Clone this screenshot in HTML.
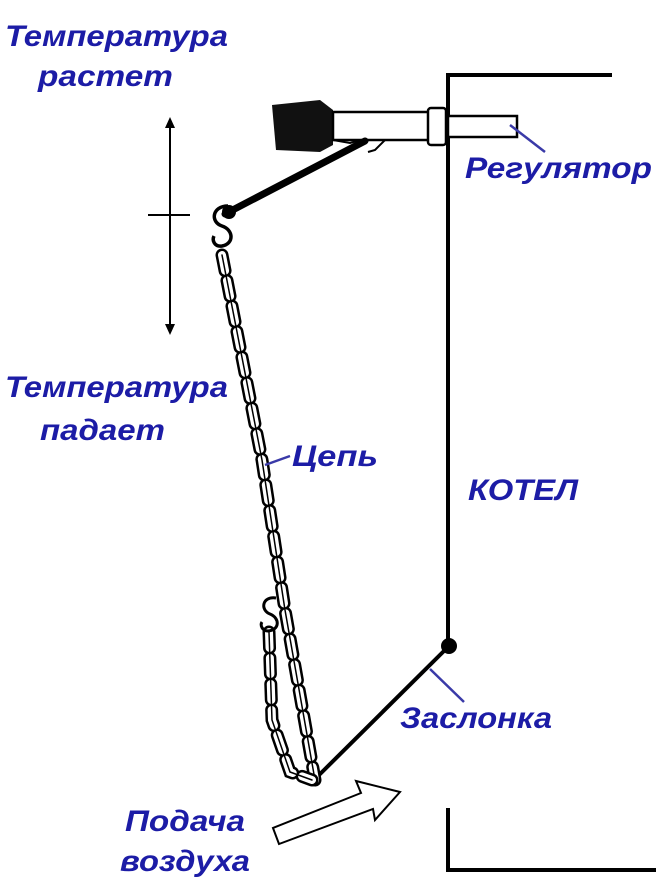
<!DOCTYPE html>
<html><head><meta charset="utf-8"><style>
html,body{margin:0;padding:0;background:#fff;}
svg{display:block}
text{font-family:"Liberation Sans",sans-serif;font-weight:bold;font-style:italic;fill:#1c1ca6;font-size:30px}
</style></head><body>
<svg width="670" height="895" viewBox="0 0 670 895" xmlns="http://www.w3.org/2000/svg">
<path d="M612 75 H448 V645" fill="none" stroke="#000" stroke-width="4"/>
<path d="M448 808 V870 H656" fill="none" stroke="#000" stroke-width="4"/>
<circle cx="449" cy="646" r="8" fill="#000"/>
<line x1="449" y1="646" x2="313" y2="781" stroke="#000" stroke-width="4"/>
<path d="M272 105 L320 100 L333 110 L333 145 L320 152 L276 150 Z" fill="#111"/>
<rect x="333" y="112" width="96" height="28" fill="#fff" stroke="#000" stroke-width="2.5"/>
<rect x="428" y="108" width="18" height="37" rx="3" fill="#fff" stroke="#000" stroke-width="2.5"/>
<rect x="448" y="116" width="69" height="21" fill="#fff" stroke="#000" stroke-width="2.5"/>
<path d="M333 140 L350 143 L360 140 M385 140 L375 150 L368 152" fill="none" stroke="#000" stroke-width="2"/>
<line x1="365" y1="141" x2="225" y2="214" stroke="#000" stroke-width="7" stroke-linecap="round"/>
<path d="M228 206 C212 206 210 222 222 226 C234 230 234 244 222 246 C214 247 212 240 214 236" fill="none" stroke="#000" stroke-width="3.5"/>
<circle cx="229" cy="212" r="7" fill="#000"/>
<g fill="none" stroke-linecap="round">
<path d="M222 255 L262 460 L285 610 L315 780" stroke="#000" stroke-width="13" stroke-dasharray="16 10"/>
<path d="M222 255 L262 460 L285 610 L315 780" stroke="#fff" stroke-width="8" stroke-dasharray="16 10"/>
<path d="M222 255 L262 460 L285 610 L315 780" stroke="#000" stroke-width="1.5"/>
<path d="M269 632 L272 720 L290 772 L312 780" stroke="#000" stroke-width="13" stroke-dasharray="16 10"/>
<path d="M269 632 L272 720 L290 772 L312 780" stroke="#fff" stroke-width="8" stroke-dasharray="16 10"/>
<path d="M269 632 L272 720 L290 772 L312 780" stroke="#000" stroke-width="1.5"/>
</g>
<path d="M276 598 C262 596 260 610 270 614 C280 618 280 630 268 631 C262 631 260 625 262 622" fill="none" stroke="#000" stroke-width="3"/>
<line x1="170" y1="122" x2="170" y2="330" stroke="#000" stroke-width="2"/>
<path d="M165 128 L170 117 L175 128 Z M165 324 L170 335 L175 324 Z" fill="#000"/>
<line x1="148" y1="215" x2="190" y2="215" stroke="#000" stroke-width="2"/>
<path d="M273 828 L279 844 L373 809 L375 820 L400 792 L356 781 L361 793 Z" fill="#fff" stroke="#000" stroke-width="2"/>
<g stroke="#3a3aa8" stroke-width="2.5">
<line x1="510" y1="125" x2="545" y2="152"/>
<line x1="265" y1="465" x2="290" y2="456"/>
<line x1="430" y1="669" x2="464" y2="702"/>
</g>
<text x="5" y="46" textLength="223" lengthAdjust="spacingAndGlyphs">Температура</text>
<text x="38" y="86" textLength="135" lengthAdjust="spacingAndGlyphs">растет</text>
<text x="465" y="178" textLength="187" lengthAdjust="spacingAndGlyphs">Регулятор</text>
<text x="5" y="397" textLength="223" lengthAdjust="spacingAndGlyphs">Температура</text>
<text x="40" y="440" textLength="125" lengthAdjust="spacingAndGlyphs">падает</text>
<text x="292" y="466" textLength="86" lengthAdjust="spacingAndGlyphs">Цепь</text>
<text x="468" y="500" textLength="110" lengthAdjust="spacingAndGlyphs">КОТЕЛ</text>
<text x="400" y="728" textLength="152" lengthAdjust="spacingAndGlyphs">Заслонка</text>
<text x="125" y="831" textLength="120" lengthAdjust="spacingAndGlyphs">Подача</text>
<text x="120" y="871" textLength="130" lengthAdjust="spacingAndGlyphs">воздуха</text>
</svg>
</body></html>
